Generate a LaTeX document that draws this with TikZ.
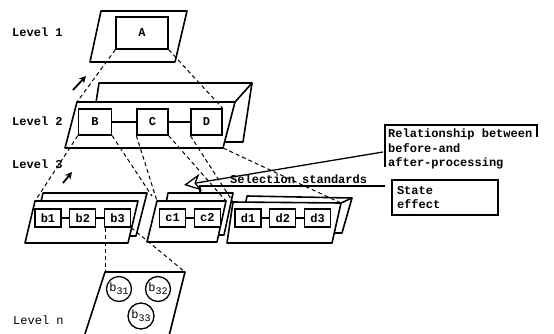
\documentclass[tikz,border=0pt]{standalone}
\usepackage{fontspec}
\setmonofont{Liberation Mono}
\usetikzlibrary{positioning,arrows.meta}

\newcommand{\sublow}[1]{\raisebox{-3pt}{\fontsize{10}{10}\selectfont #1}}

\begin{document}
\begin{tikzpicture}[
        x=1pt, y=-1pt,
        font=\ttfamily\bfseries\fontsize{12}{14.5}\selectfont,
        plane/.style={draw, line width=1.6pt, fill=white, line join=round},
        unit/.style={draw, line width=1.3pt, fill=white, minimum width=26pt, minimum height=18pt, inner sep=1pt},
        link/.style={line width=2.6pt},
        proj/.style={line width=1pt, dash pattern=on 4pt off 3pt},
        lift/.style={-{Stealth[length=7pt,width=7pt]}, line width=1.8pt},
        bigarrow/.style={-{Stealth[open, length=17pt, width=17pt, inset=5pt]}, line width=1.3pt},
        level/.style={anchor=west, inner sep=0pt},
        ring/.style={circle, draw, line width=1.3pt, minimum size=25pt, inner sep=0pt, font=\ttfamily\mdseries\fontsize{12}{12}\selectfont},
        node distance=7.5pt
    ]
    \useasboundingbox (0,0) rectangle (554,333);
    \clip (0,0) rectangle (554,333);

    % level 1
    \draw[plane] (101,11) -- (187,11) -- (175,62) -- (90,62) -- cycle;
    \node[unit, minimum width=52pt, minimum height=32pt] (A) at (142,33) {A};

    % level 2 slab
    \coordinate (s-nw) at (77,102);
    \coordinate (s-ne) at (235,102);
    \coordinate (s-se) at (223,148);
    \coordinate (s-sw) at (65,148);
    \draw[plane] (99,83) -- (252,83) -- (243,142) -- (90,142) -- cycle;
    \draw[plane] (s-nw) -- (s-ne) -- (s-se) -- (s-sw) -- cycle;
    \draw[plane] (252,83) -- (s-ne);
    \node[unit, minimum width=33pt, minimum height=26pt] (B) at (95,122) {B};
    \node[unit, minimum width=31pt, minimum height=26pt] (C) at (152.5,122) {C};
    \node[unit, minimum width=31pt, minimum height=26pt] (D) at (206.5,122) {D};
    \draw[link] (B) -- (C);
    \draw[link] (C) -- (D);

    % level 3 cards
    \coordinate (bf-nw) at (35,201);
    \coordinate (bb-ne) at (147,193);
    \draw[plane] (43,193) -- (bb-ne) -- (136,236) -- (33,236) -- cycle;
    \draw[plane] (bf-nw) -- (138,201) -- (128,243) -- (25,243) -- cycle;
    \coordinate (cf-nw) at (157,201);
    \coordinate (cf-ne) at (226,201);
    \draw[plane] (168,193) -- (233,193) -- (224,235) -- (160,235) -- cycle;
    \draw[plane] (cf-nw) -- (cf-ne) -- (217,242) -- (147,242) -- cycle;
    \coordinate (df-nw) at (233,202);
    \coordinate (df-ne) at (341,203);
    \draw[plane] (247,196) -- (352,198) -- (342,233) -- (240,233) -- cycle;
    \draw[plane] (df-nw) -- (df-ne) -- (332,243) -- (227,243) -- cycle;
    \draw[plane] (352,198) -- (df-ne);

    \node[unit] (b1) at (48,218) {b1};
    \node[unit, right=of b1] (b2) {b2};
    \node[unit, right=of b2] (b3) {b3};
    \node[unit] (c1) at (172.5,218) {c1};
    \node[unit, right=of c1] (c2) {c2};
    \node[unit] (d1) at (248,218) {d1};
    \node[unit, right=of d1] (d2) {d2};
    \node[unit, right=of d2] (d3) {d3};
    \draw[link] (b1) -- (b2);
    \draw[link] (b2) -- (b3);
    \draw[link] (c1) -- (c2);
    \draw[link] (d1) -- (d2);
    \draw[link] (d2) -- (d3);

    % level n
    \coordinate (n-nw) at (105,272);
    \coordinate (n-ne) at (185,272);
    \draw[plane] (n-nw) -- (n-ne) -- (168,340) -- (83,340) -- cycle;
    \node[ring] (b31) at (119,289) {b\sublow{31}};
    \node[ring] (b32) at (158,289) {b\sublow{32}};
    \node[ring, minimum size=26pt] (b33) at (141,316) {b\sublow{33}};

    % projections between levels
    \draw[proj] (A.south west) -- (s-nw);
    \draw[proj] (A.south east) -- (D.north east);
    \coordinate (bgap) at (152,196);
    \draw[proj] (B.south west) -- (bf-nw);
    \draw[proj] (B.south east) -- (bgap);
    \draw[proj] (C.south west) -- (cf-nw);
    \draw[proj] (C.south east) -- (cf-ne);
    \draw[proj] (D.south west) -- (df-nw);
    \draw[proj] (s-se) -- (df-ne);
    \draw[proj] (n-nw |- b3.south) -- (n-nw);
    \draw[proj] (b3.south east) -- (n-ne);

    % level labels
    \node[level] (lv1) at (12,32) {Level 1};
    \node[level] (lv2) at (12,121) {Level 2};
    \node[level] (lv3) at (12,164) {Level 3};
    \node[level, font=\ttfamily\mdseries\fontsize{12}{14}\selectfont] (lvn) at (13,320) {Level n};
    \draw[lift] (73,90) -- (86,76);
    \draw[lift] (63,183) -- (72,172);

    % notes on the right
    \node[anchor=north west, inner sep=0pt, align=left] (rel) at (388,129)
        {Relationship between\\before-and\\after-processing};
    \draw[line width=1.3pt] (537,137) -- (537,125) -- (385,125) -- (385,167);
    \node[draw, line width=1.3pt, minimum width=106pt, minimum height=35pt,
          text width=96pt, inner xsep=5pt, align=left] (state) at (445,197.5) {State\\effect};
    \node[anchor=base west, inner sep=0pt] (sel) at (230,183) {Selection standards};
    \coordinate (selend) at (385,186);
    \coordinate (tab) at (200,193);
    \draw[line width=1.3pt] (selend) -- (tab |- selend) -- (tab);
    \coordinate (relfoot) at (383,152);
    \coordinate (ctip) at (184,185);
    \draw[bigarrow] (relfoot) -- (ctip);
\end{tikzpicture}
\end{document}
